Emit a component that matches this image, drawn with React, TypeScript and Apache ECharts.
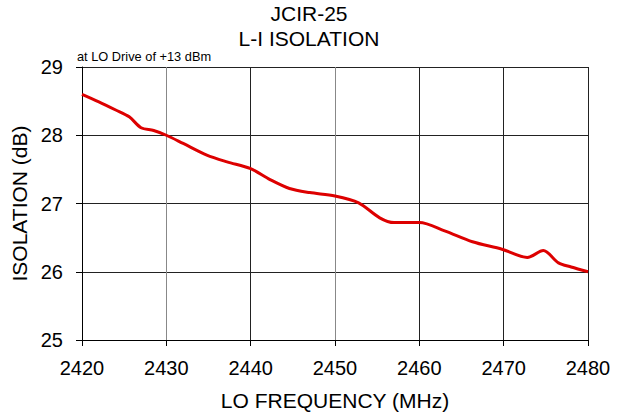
import React, { useEffect, useRef } from "react";
import * as echarts from "echarts";

const titleLines = ["JCIR-25", "L-I ISOLATION"];
const noteText = "at LO Drive of +13 dBm";
const xName = "LO FREQUENCY (MHz)";
const yName = "ISOLATION (dB)";

const freq = [2420, 2422, 2424, 2425.6, 2427, 2428.5, 2430, 2432, 2434.8, 2437.2, 2440, 2442.3, 2444.6, 2447, 2450, 2452.8, 2455.3, 2457, 2460, 2463, 2466.3, 2469.8, 2472.8, 2474.7, 2476.5, 2478, 2480];
const isolation = [28.6, 28.49, 28.37, 28.27, 28.11, 28.07, 28.0, 27.88, 27.71, 27.61, 27.51, 27.35, 27.22, 27.16, 27.11, 27.01, 26.79, 26.72, 26.72, 26.6, 26.44, 26.33, 26.21, 26.31, 26.13, 26.07, 26.0];

export default function App() {
  const ref = useRef<HTMLDivElement>(null);
  useEffect(() => {
    if (!ref.current) return;
    const chart = echarts.init(ref.current, null, { renderer: "svg" });
    const font = "Liberation Sans, Arial, sans-serif";
    chart.setOption({
      animation: false,
      backgroundColor: "#ffffff",
      textStyle: { fontFamily: font },
      title: [
        {
          text: titleLines.join("\n"),
          left: 309,
          top: 1,
          padding: 0,
          textAlign: "center",
          textStyle: { fontFamily: font, fontSize: 21, fontWeight: "normal", color: "#000", lineHeight: 25 },
        },
        {
          text: noteText,
          left: 77,
          top: 50,
          padding: 0,
          textStyle: { fontFamily: font, fontSize: 12.8, fontWeight: "normal", color: "#000" },
        },
      ],
      grid: { left: 82, right: 36, top: 67, bottom: 76, containLabel: false },
      xAxis: {
        type: "value",
        min: 2420,
        max: 2480,
        interval: 10,
        name: xName,
        nameLocation: "middle",
        nameGap: 50,
        nameTextStyle: { fontFamily: font, fontSize: 21, color: "#000" },
        axisLine: { show: true, lineStyle: { color: "#000", width: 1 } },
        axisTick: { show: true, inside: false, length: 6, lineStyle: { color: "#000" } },
        axisLabel: { fontFamily: font, fontSize: 20, color: "#000", margin: 18, formatter: (v: number) => String(v) },
        splitLine: { show: true, lineStyle: { color: ["#222", "#888", "#222", "#888", "#222", "#222", "#222"], width: 1 } },
      },
      yAxis: {
        type: "value",
        min: 25,
        max: 29,
        interval: 1,
        name: yName,
        nameLocation: "middle",
        nameGap: 50,
        nameRotate: 90,
        nameTextStyle: { fontFamily: font, fontSize: 21, color: "#000" },
        axisLine: { show: true, lineStyle: { color: "#000", width: 1 } },
        axisTick: { show: true, inside: false, length: 6, lineStyle: { color: "#000" } },
        axisLabel: { fontFamily: font, fontSize: 20, color: "#000", margin: 19, formatter: (v: number) => String(v) },
        splitLine: { show: true, lineStyle: { color: "#222", width: 1 } },
      },
      series: [
        {
          type: "line",
          data: freq.map((f, i) => [f, isolation[i]]),
          smooth: 0.3,
          showSymbol: false,
          lineStyle: { color: "#dd0000", width: 3 },
        },
      ],
    });
    return () => chart.dispose();
  }, []);
  return <div ref={ref} style={{ width: 624, height: 416, position: "absolute", left: 0, top: 0 }} />;
}
